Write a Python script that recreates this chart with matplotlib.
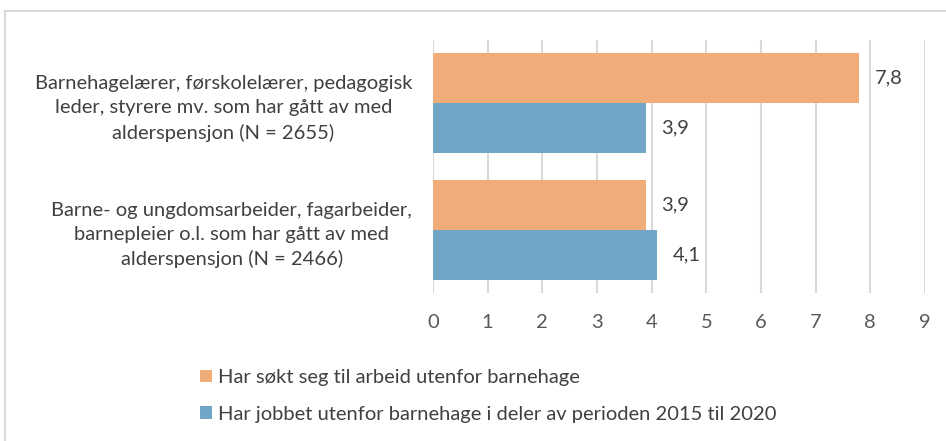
import matplotlib.pyplot as plt
import numpy as np
from matplotlib.patches import Rectangle

plt.rcParams["font.family"] = ["Lato", "DejaVu Sans"]

categories = [
    "Barnehagelærer, førskolelærer, pedagogisk\nleder, styrere mv. som har gått av med\nalderspensjon (N = 2655)",
    "Barne- og ungdomsarbeider, fagarbeider,\nbarnepleier o.l. som har gått av med\nalderspensjon (N = 2466)",
]
series_names = [
    "Har søkt seg til arbeid utenfor barnehage",
    "Har jobbet utenfor barnehage i deler av perioden 2015 til 2020",
]
sokt = [7.8, 3.9]
jobbet = [3.9, 4.1]
x_ticks = list(range(10))

ORANGE = "#f0ad7a"
BLUE = "#71a6c6"
GRID = "#d9d9d9"
TEXT = "#404040"
FS = 14.5

fig = plt.figure(figsize=(9.46, 4.41), dpi=100)
ax = fig.add_axes([433 / 946, 1 - 293 / 441, (925 - 433) / 946, 253 / 441])

y = np.arange(len(categories))
h = 0.395
ax.barh(y - h / 2, sokt, height=h, color=ORANGE, label=series_names[0])
ax.barh(y + h / 2, jobbet, height=h, color=BLUE, label=series_names[1])

for values, offset in [(sokt, -h / 2), (jobbet, h / 2)]:
    for yi, v in zip(y, values):
        ax.annotate(f"{v:.1f}".replace(".", ","), (v, yi + offset), xytext=(11, 0),
                    textcoords="offset points", va="center", ha="left",
                    fontsize=FS, color=TEXT)

ax.set_xlim(0, 9)
ax.set_ylim(1.5, -0.5)
ax.set_xticks(x_ticks)
ax.set_yticks(y)
ax.set_yticklabels(categories, multialignment="center", linespacing=1.5)
ax.tick_params(axis="y", length=0, pad=15, labelsize=FS, labelcolor=TEXT)
ax.tick_params(axis="x", length=0, pad=15, labelsize=FS, labelcolor="#595959")
ax.grid(axis="x", color=GRID, linewidth=1.5)
ax.set_axisbelow(True)
for s in ax.spines.values():
    s.set_visible(False)

fig.patches.append(Rectangle((5 / 946, -0.1), 1.2, 1 - 11 / 441 + 0.1,
                             transform=fig.transFigure, fill=False,
                             edgecolor=GRID, linewidth=1.5))

fig.legend(loc="upper left", bbox_to_anchor=(200 / 946, 1 - 369 / 441),
           frameon=False, ncol=1, fontsize=FS, labelcolor=TEXT,
           handlelength=0.6, handleheight=0.6, handletextpad=0.3,
           labelspacing=0.98, borderpad=0, borderaxespad=0)

fig.savefig("out.png", dpi=100)
